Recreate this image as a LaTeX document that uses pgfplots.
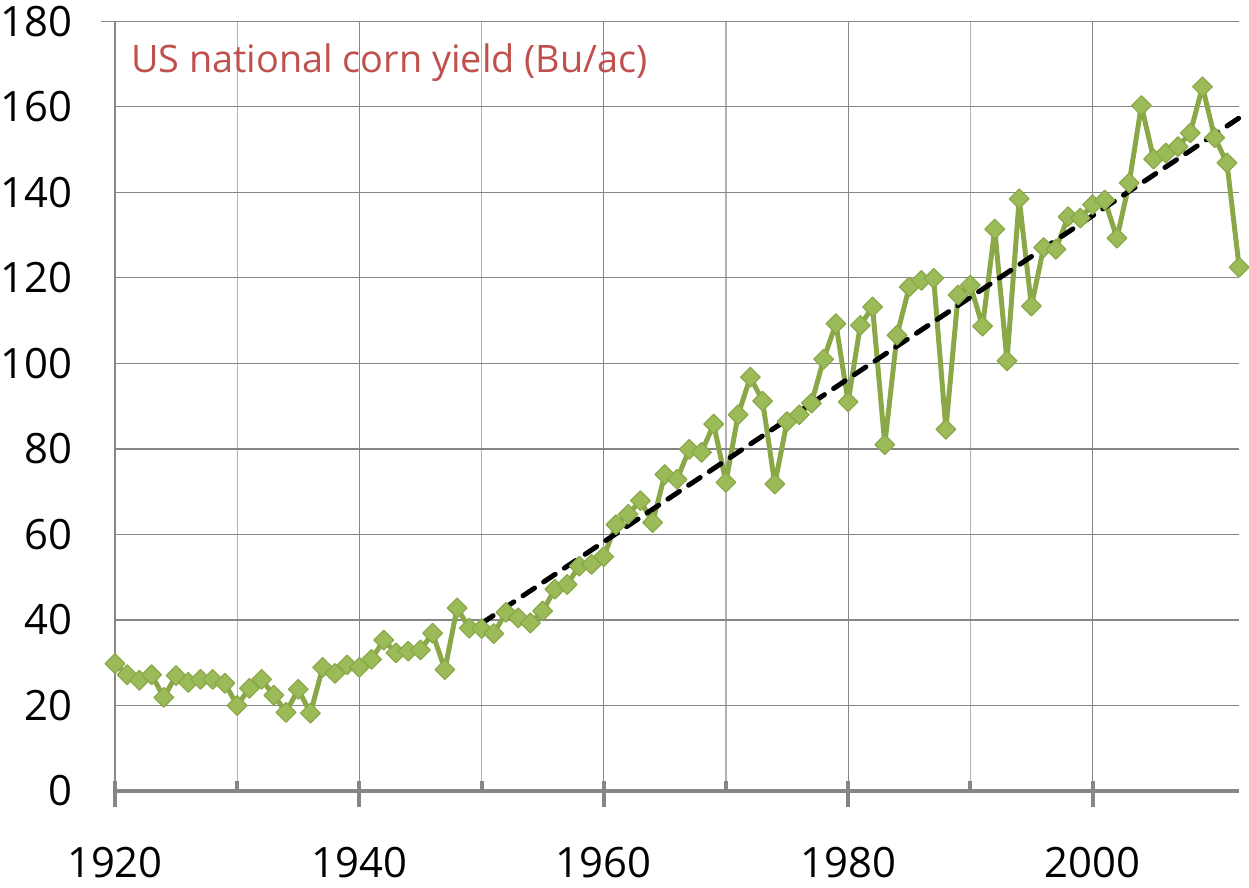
\documentclass[border=0pt]{standalone}
\usepackage{pgfplots}
\pgfplotsset{compat=1.18}
\usepackage{fontspec}
\setmainfont{Open Sans}
\definecolor{gline}{RGB}{138,168,72}
\definecolor{gfill}{RGB}{155,187,89}
\definecolor{gridmaj}{RGB}{134,134,134}
\definecolor{gridmin}{RGB}{178,178,178}
\definecolor{ttl}{RGB}{192,80,77}
\begin{document}
\begin{tikzpicture}
\begin{axis}[
  scale only axis,
  width=564.5pt, height=386.5pt,
  xmin=1920, xmax=2012, ymin=0, ymax=180,
  xtick={1920,1940,1960,1980,2000},
  minor x tick num=1,
  ytick={0,20,...,180},
  xticklabel style={/pgf/number format/1000 sep={}, inner xsep=1pt, inner ysep=5pt, yshift=-16.5pt},
  yticklabel style={inner xsep=0.5pt, inner ysep=3pt, xshift=-14pt},
  /pgf/number format/assume math mode=true,
  tick label style={font=\fontsize{21}{21}\selectfont},
  axis lines*=left,
  y axis line style={draw=none},
  x axis line style={line width=2pt, gridmaj},
  tick align=center,
  major tick length=13pt,
  minor tick length=5pt,
  xtick style={line width=2pt, gridmaj},
  major tick style={yshift=-1.5pt},
  minor tick style={line width=1.5pt, yshift=2.5pt},
  ytick style={draw=none},
  xmajorgrids, xminorgrids, ymajorgrids,
  major grid style={gridmaj, line width=0.6pt},
  minor grid style={gridmin, line width=0.6pt},
  y grid style={shorten <=-7pt},
  clip=false,
]
\addplot[gline, line width=2.5pt, line join=round,
  mark=square*, mark size=3.5pt,
  mark options={rotate=45, fill=gfill, draw=gline, line width=0.6pt}]
coordinates {
(1920,29.8)(1921,27.2)(1922,25.9)(1923,27.2)(1924,21.9)(1925,27.0)(1926,25.4)(1927,26.1)(1928,26.1)(1929,25.2)
(1930,20.0)(1931,24.0)(1932,26.1)(1933,22.4)(1934,18.4)(1935,23.8)(1936,18.2)(1937,28.9)(1938,27.5)(1939,29.5)
(1940,28.9)(1941,30.8)(1942,35.3)(1943,32.3)(1944,32.7)(1945,33.0)(1946,36.9)(1947,28.4)(1948,42.8)(1949,38.1)
(1950,38.0)(1951,36.8)(1952,41.8)(1953,40.5)(1954,39.3)(1955,42.1)(1956,47.2)(1957,48.3)(1958,52.6)(1959,53.0)
(1960,54.8)(1961,62.3)(1962,64.7)(1963,67.9)(1964,62.8)(1965,74.0)(1966,72.9)(1967,79.9)(1968,79.2)(1969,85.8)
(1970,72.2)(1971,88.0)(1972,96.8)(1973,91.2)(1974,71.8)(1975,86.4)(1976,88.0)(1977,90.7)(1978,101.0)(1979,109.3)
(1980,91.0)(1981,108.9)(1982,113.2)(1983,81.0)(1984,106.6)(1985,117.9)(1986,119.4)(1987,119.9)(1988,84.6)(1989,116.0)
(1990,118.3)(1991,108.7)(1992,131.4)(1993,100.6)(1994,138.5)(1995,113.4)(1996,127.1)(1997,126.7)(1998,134.3)(1999,134.0)
(2000,137.1)(2001,138.2)(2002,129.3)(2003,142.2)(2004,160.3)(2005,147.8)(2006,149.2)(2007,150.7)(2008,153.9)(2009,164.7)
(2010,152.8)(2011,146.9)(2012,122.5)
};
\addplot[black, line width=2.5pt, line cap=round, dash pattern=on 7pt off 5.5pt]
coordinates {(1950,39.2)(2012,157.4)};
\node[anchor=west, inner sep=0pt, text=ttl, font=\fontsize{19}{19}\selectfont] at (rel axis cs:0.014,0.946) {US national corn yield (Bu/ac)};
\end{axis}
\end{tikzpicture}
\end{document}
